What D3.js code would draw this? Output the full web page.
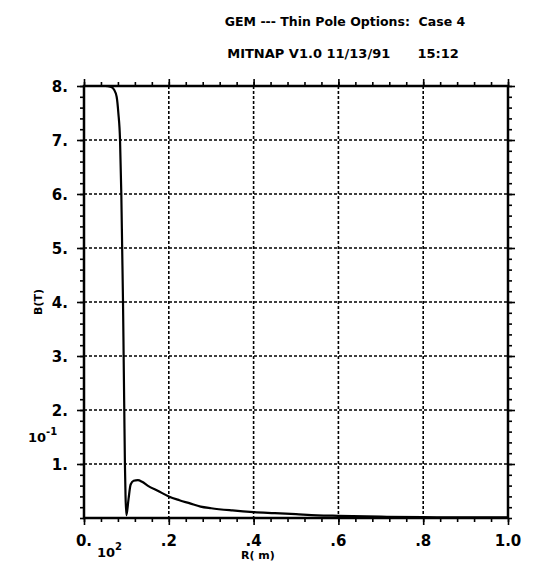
<!DOCTYPE html>
<html>
<head>
<meta charset="utf-8">
<script src="https://cdn.jsdelivr.net/npm/d3@7"></script>
<style>
  body { margin: 0; background: #fff; }
  text { font-family: "DejaVu Sans", sans-serif; font-weight: bold; fill: #000; }
</style>
</head>
<body>
<svg width="543" height="571"></svg>
<script>
// data (display units: R x 10^2 m, B x 10^-1 T)
const rValues = [0, 0.05, 0.064, 0.071, 0.077, 0.081, 0.085, 0.088, 0.09, 0.092, 0.0935, 0.095, 0.0965,
  0.098, 0.1, 0.105, 0.11, 0.117, 0.127, 0.137, 0.15, 0.175, 0.2, 0.225, 0.25, 0.275, 0.3, 0.35,
  0.4, 0.45, 0.5, 0.55, 0.6, 0.7, 0.8, 0.9, 1.0];
const bValues = [8.0, 8.0, 7.98, 7.93, 7.8, 7.5, 7.0, 6.0, 5.0, 4.0, 3.0, 2.0, 1.0,
  0.4, 0.05, 0.35, 0.62, 0.69, 0.70, 0.67, 0.6, 0.5, 0.4, 0.33, 0.27, 0.21, 0.18, 0.14,
  0.11, 0.09, 0.07, 0.05, 0.04, 0.025, 0.015, 0.01, 0.01];
const xTicks = [0, 0.2, 0.4, 0.6, 0.8, 1.0];
const xTickLabels = ['0.', '.2', '.4', '.6', '.8', '1.0'];
const yTicks = [1, 2, 3, 4, 5, 6, 7, 8];
const yTickLabels = ['1.', '2.', '3.', '4.', '5.', '6.', '7.', '8.'];

const svg = d3.select('svg');
const width = +svg.attr('width');
const height = +svg.attr('height');

const margin = {top: 86, right: 35, bottom: 53, left: 84};
const innerWidth = width - margin.left - margin.right;
const innerHeight = height - margin.top - margin.bottom;

const xScale = d3.scaleLinear().domain([0, 1]).range([margin.left, margin.left + innerWidth]);
const yScale = d3.scaleLinear().domain([0, 8]).range([margin.top + innerHeight, margin.top]);

// titles
svg.append('text')
  .attr('x', 345).attr('y', 26)
  .attr('text-anchor', 'middle')
  .attr('font-size', 12.5)
  .attr('xml:space', 'preserve')
  .text('GEM --- Thin Pole Options:  Case 4');
svg.append('text')
  .attr('x', 343).attr('y', 58)
  .attr('text-anchor', 'middle')
  .attr('font-size', 13)
  .attr('xml:space', 'preserve')
  .text('MITNAP V1.0 11/13/91      15:12');

// grid
const grid = svg.append('g')
  .attr('stroke', '#000')
  .attr('stroke-width', 1.6)
  .attr('stroke-dasharray', '3,2');
grid.selectAll('.vg').data(xTicks.slice(1, -1))
  .enter().append('line')
    .attr('x1', d => xScale(d)).attr('x2', d => xScale(d))
    .attr('y1', yScale(8)).attr('y2', yScale(0));
grid.selectAll('.hg').data(yTicks.slice(0, -1))
  .enter().append('line')
    .attr('y1', d => yScale(d)).attr('y2', d => yScale(d))
    .attr('x1', xScale(0)).attr('x2', xScale(1));

// axes with minor ticks, outward on all sides
const xMinor = d3.range(0, 1.0001, 0.04);
const yMinor = d3.range(0, 8.0001, 0.2);

const axisStyle = sel => {
  sel.select('.domain').remove();
  sel.selectAll('.tick line').attr('stroke-width', 1.6);
  sel.selectAll('.tick text').remove();
};

const bottomY = yScale(0), topY = yScale(8), leftX = xScale(0), rightX = xScale(1);
svg.append('g').attr('transform', `translate(0,${bottomY})`)
  .call(d3.axisBottom(xScale).tickValues(xMinor).tickSize(4)).call(axisStyle);
svg.append('g').attr('transform', `translate(0,${bottomY})`)
  .call(d3.axisBottom(xScale).tickValues(xTicks).tickSize(7)).call(axisStyle);
svg.append('g').attr('transform', `translate(0,${topY})`)
  .call(d3.axisTop(xScale).tickValues(xMinor).tickSize(4)).call(axisStyle);
svg.append('g').attr('transform', `translate(0,${topY})`)
  .call(d3.axisTop(xScale).tickValues(xTicks).tickSize(7)).call(axisStyle);
svg.append('g').attr('transform', `translate(${leftX},0)`)
  .call(d3.axisLeft(yScale).tickValues(yMinor).tickSize(4)).call(axisStyle);
svg.append('g').attr('transform', `translate(${leftX},0)`)
  .call(d3.axisLeft(yScale).tickValues(yTicks).tickSize(7)).call(axisStyle);
svg.append('g').attr('transform', `translate(${rightX},0)`)
  .call(d3.axisRight(yScale).tickValues(yMinor).tickSize(4)).call(axisStyle);
svg.append('g').attr('transform', `translate(${rightX},0)`)
  .call(d3.axisRight(yScale).tickValues(yTicks).tickSize(7)).call(axisStyle);

// frame
svg.append('rect')
  .attr('x', leftX).attr('y', topY)
  .attr('width', innerWidth).attr('height', innerHeight)
  .attr('fill', 'none').attr('stroke', '#000').attr('stroke-width', 2.5);

// tick labels
svg.selectAll('.xl').data(xTicks)
  .enter().append('text')
    .attr('x', d => xScale(d)).attr('y', bottomY + 28)
    .attr('text-anchor', 'middle')
    .attr('font-size', 15)
    .text((d, i) => xTickLabels[i]);
svg.selectAll('.yl').data(yTicks)
  .enter().append('text')
    .attr('x', leftX - 16).attr('y', d => yScale(d) + 6)
    .attr('text-anchor', 'end')
    .attr('font-size', 15)
    .text((d, i) => yTickLabels[i]);

// exponent multipliers
const yExp = svg.append('text').attr('x', 28).attr('y', 442).attr('font-size', 13);
yExp.append('tspan').text('10');
yExp.append('tspan').attr('dy', -7).attr('font-size', 10).text('-1');
const xExp = svg.append('text').attr('x', 97).attr('y', 557).attr('font-size', 13);
xExp.append('tspan').text('10');
xExp.append('tspan').attr('dy', -7).attr('font-size', 10).text('2');

// axis titles
svg.append('text')
  .attr('x', xScale(0.41)).attr('y', 559)
  .attr('text-anchor', 'middle')
  .attr('font-size', 11)
  .attr('xml:space', 'preserve')
  .text('R( m)');
svg.append('text')
  .attr('transform', `translate(42,${yScale(4)}) rotate(-90)`)
  .attr('text-anchor', 'middle')
  .attr('font-size', 11)
  .text('B(T)');

// curve
const points = rValues.map((r, i) => [r, bValues[i]]);
const line = d3.line()
  .x(d => xScale(d[0]))
  .y(d => yScale(d[1]))
  .curve(d3.curveMonotoneX);
svg.append('path')
  .datum(points)
  .attr('fill', 'none')
  .attr('stroke', '#000')
  .attr('stroke-width', 2.2)
  .attr('d', line);
</script>
</body>
</html>
